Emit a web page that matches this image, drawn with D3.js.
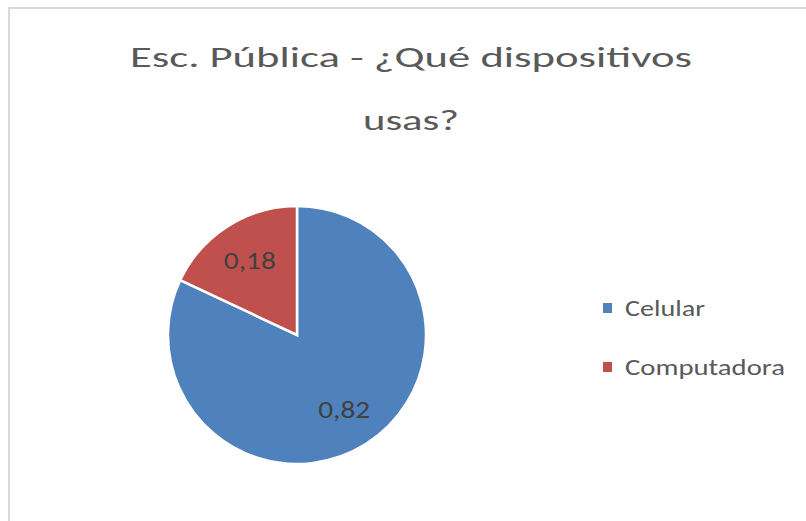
<!DOCTYPE html>
<html>
<head>
<meta charset="utf-8">
<script src="https://cdn.jsdelivr.net/npm/d3@7"></script>
<style>
  html, body { margin: 0; padding: 0; background: #fff; }
  svg { display: block; }
</style>
</head>
<body>
<svg id="chart" width="806" height="521"></svg>
<script>
const titleLines = ["Esc. Pública - ¿Qué dispositivos", "usas?"];
const categories = ["Celular", "Computadora"];
const values = [0.82, 0.18];
const valueLabels = ["0,82", "0,18"];
const colors = ["#4f81bd", "#c0504d"];

const W = 806, H = 521;
const FONT = "Carlito, Lato, 'Open Sans', sans-serif";
const svg = d3.select("#chart");

// chart area border
svg.append("rect")
  .attr("x", 9).attr("y", 8)
  .attr("width", W).attr("height", H)
  .attr("fill", "#fff")
  .attr("stroke", "#d9d9d9").attr("stroke-width", 2);

// title
const titleSpecs = [
  { y: 67, width: 562 },
  { y: 130, width: 96 }
];
titleLines.forEach((t, i) => {
  svg.append("text")
    .attr("x", 411).attr("y", titleSpecs[i].y)
    .attr("text-anchor", "middle")
    .attr("font-family", FONT)
    .attr("font-size", 29)
    .attr("fill", "#595959")
    .attr("textLength", titleSpecs[i].width)
    .attr("lengthAdjust", "spacingAndGlyphs")
    .text(t);
});

// pie
const cx = 297, cy = 335, R = 129;
const pie = d3.pie().sort(null).value(d => d.value);
const data = categories.map((c, i) => ({ name: c, value: values[i], label: valueLabels[i], color: colors[i] }));
const arcs = pie(data);
const arc = d3.arc().innerRadius(0).outerRadius(R);
const labelArc = d3.arc().innerRadius(88).outerRadius(88);

const g = svg.append("g").attr("transform", `translate(${cx},${cy})`);
g.selectAll("path.slice").data(arcs).enter().append("path")
  .attr("class", "slice")
  .attr("d", arc)
  .attr("fill", d => d.data.color)
  .attr("stroke", "#fff")
  .attr("stroke-width", 2.5)
  .attr("stroke-linejoin", "miter");

g.selectAll("text.lbl").data(arcs).enter().append("text")
  .attr("class", "lbl")
  .attr("transform", d => {
    const [x, y] = labelArc.centroid(d);
    return `translate(${x},${y})`;
  })
  .attr("text-anchor", "middle")
  .attr("dy", "0.36em")
  .attr("font-family", FONT)
  .attr("font-size", 24)
  .attr("fill", "#404040")
  .attr("textLength", 52)
  .attr("lengthAdjust", "spacingAndGlyphs")
  .text(d => d.data.label);

// legend
const legendY = d3.scalePoint().domain(categories).range([308, 367]);
const legendWidths = [80, 160];
const lg = svg.append("g");
categories.forEach((c, i) => {
  const y = legendY(c);
  lg.append("rect")
    .attr("x", 603).attr("y", y - 5)
    .attr("width", 9).attr("height", 10)
    .attr("fill", colors[i]);
  lg.append("text")
    .attr("x", 625).attr("y", y)
    .attr("dy", "0.36em")
    .attr("font-family", FONT)
    .attr("font-size", 23)
    .attr("fill", "#595959")
    .attr("textLength", legendWidths[i])
    .attr("lengthAdjust", "spacingAndGlyphs")
    .text(c);
});
</script>
</body>
</html>
